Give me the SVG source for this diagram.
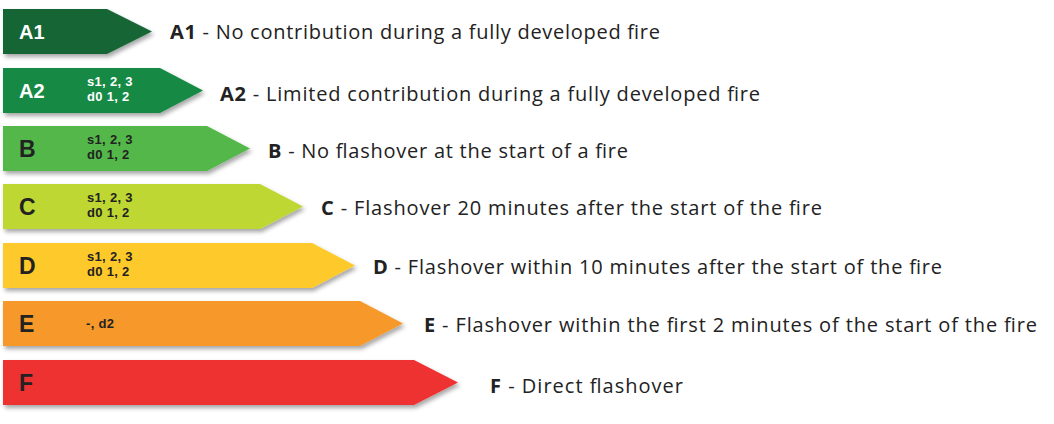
<svg xmlns="http://www.w3.org/2000/svg" width="1054" height="424" viewBox="0 0 1054 424">
<defs>
<filter id="sh" x="-5%" y="-20%" width="115%" height="150%">
<feDropShadow dx="2" dy="3" stdDeviation="2" flood-color="#000" flood-opacity="0.35"/>
</filter>
<style>
.arrow{filter:url(#sh);}
.big{font-family:"Liberation Sans",Arial,sans-serif;font-weight:bold;font-size:23px;fill:#222;}
.bigw{font-family:"Liberation Sans",Arial,sans-serif;font-weight:bold;font-size:20px;fill:#fff;}
.mini{font-family:"Liberation Sans",Arial,sans-serif;font-weight:bold;font-size:13px;fill:#222;letter-spacing:0.3px;}
.miniw{font-family:"Liberation Sans",Arial,sans-serif;font-weight:bold;font-size:13px;fill:#fff;letter-spacing:0.3px;}
.desc{font-family:"Open Sans","Liberation Sans",sans-serif;font-size:20px;fill:#222;}
.desc .b{font-weight:bold;}
</style>
</defs>
<rect width="1054" height="424" fill="#fff"/>
<g id="A1">
<polygon class="arrow" points="3,9 107,9 152,31.5 107,54 3,54" fill="#176636"/>
<text class="bigw" x="19" y="39">A1</text>
<text class="desc" x="170" y="39" textLength="490" lengthAdjust="spacing"><tspan class="b">A1</tspan> - No contribution during a fully developed fire</text>
</g>
<g id="A2">
<polygon class="arrow" points="3,68 160,68 203,90.5 160,113 3,113" fill="#148a45"/>
<text class="bigw" x="19" y="98">A2</text>
<text class="miniw" x="87" y="86">s1, 2, 3</text>
<text class="miniw" x="87" y="101">d0 1, 2</text>
<text class="desc" x="220" y="101" textLength="540" lengthAdjust="spacing"><tspan class="b">A2</tspan> - Limited contribution during a fully developed fire</text>
</g>
<g id="B">
<polygon class="arrow" points="3,126 207,126 250,148.5 207,171 3,171" fill="#52b84a"/>
<text class="big" x="19" y="157">B</text>
<text class="mini" x="87" y="144">s1, 2, 3</text>
<text class="mini" x="87" y="159">d0 1, 2</text>
<text class="desc" x="268" y="158" textLength="360" lengthAdjust="spacing"><tspan class="b">B</tspan> - No flashover at the start of a fire</text>
</g>
<g id="C">
<polygon class="arrow" points="3,184 260,184 303,206.5 260,229 3,229" fill="#bed731"/>
<text class="big" x="19" y="215">C</text>
<text class="mini" x="87" y="202">s1, 2, 3</text>
<text class="mini" x="87" y="217">d0 1, 2</text>
<text class="desc" x="321" y="215" textLength="501" lengthAdjust="spacing"><tspan class="b">C</tspan> - Flashover 20 minutes after the start of the fire</text>
</g>
<g id="D">
<polygon class="arrow" points="3,243 312,243 355,265.5 312,288 3,288" fill="#fec92a"/>
<text class="big" x="19" y="274">D</text>
<text class="mini" x="87" y="261">s1, 2, 3</text>
<text class="mini" x="87" y="276">d0 1, 2</text>
<text class="desc" x="373" y="274" textLength="569" lengthAdjust="spacing"><tspan class="b">D</tspan> - Flashover within 10 minutes after the start of the fire</text>
</g>
<g id="E">
<polygon class="arrow" points="3,301 360,301 403,323.5 360,346 3,346" fill="#f6992c"/>
<text class="big" x="19" y="332">E</text>
<text class="mini" x="86" y="328">-, d2</text>
<text class="desc" x="424" y="332" textLength="613" lengthAdjust="spacing"><tspan class="b">E</tspan> - Flashover within the first 2 minutes of the start of the fire</text>
</g>
<g id="F">
<polygon class="arrow" points="3,360 414,360 458,382.5 414,405 3,405" fill="#ee3131"/>
<text class="big" x="19" y="391">F</text>
<text class="desc" x="490" y="393" textLength="193" lengthAdjust="spacing"><tspan class="b">F</tspan> - Direct flashover</text>
</g>
<g id="connectors"/>
</svg>
